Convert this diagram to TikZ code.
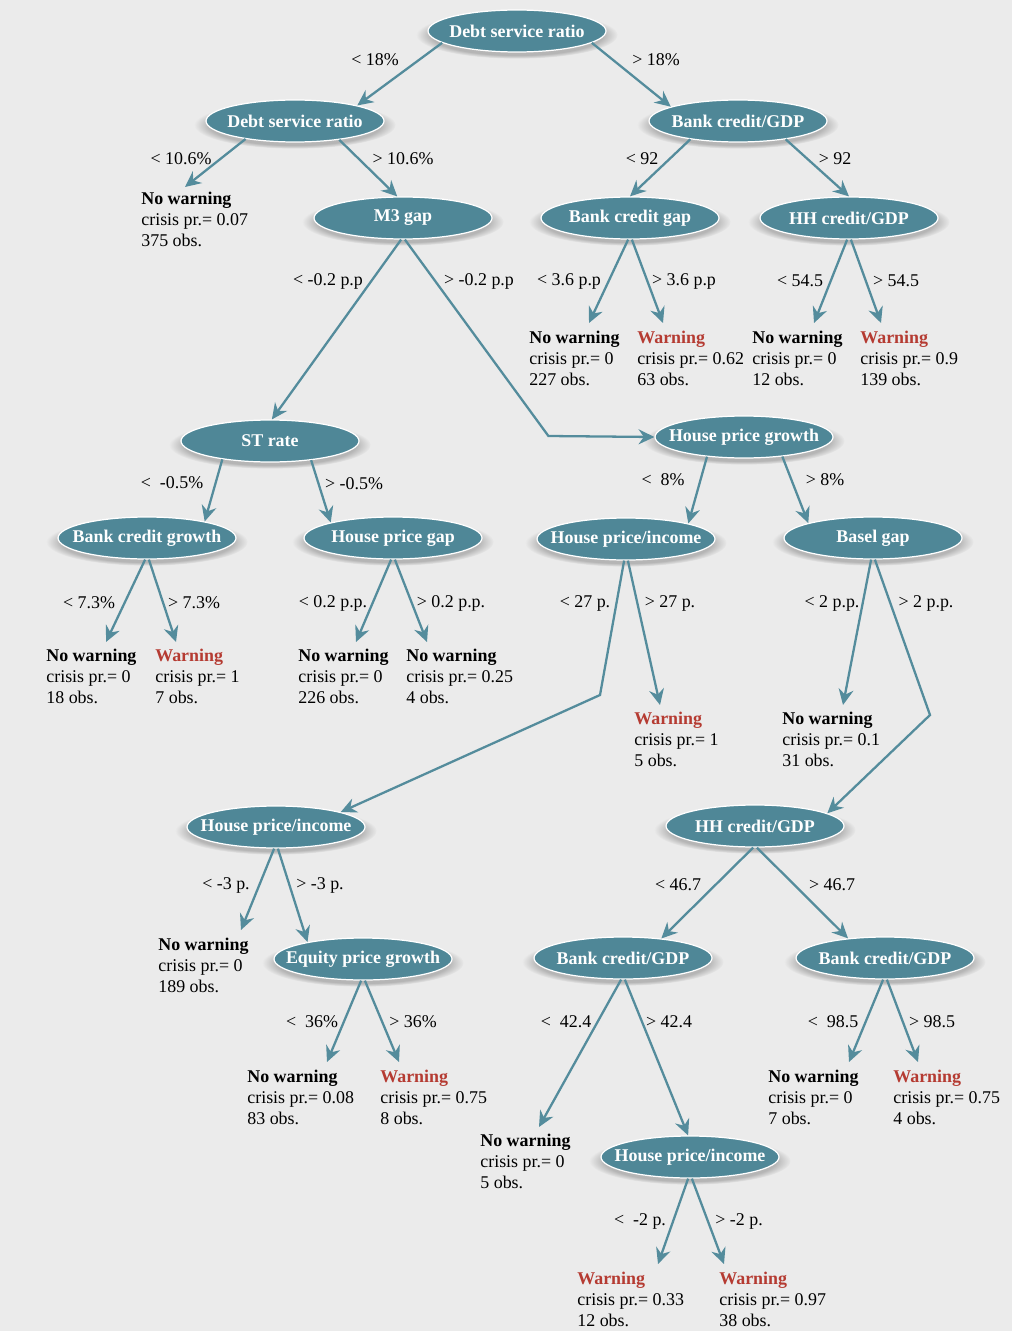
\documentclass[tikz,border=0pt]{standalone}
\usepackage{fontspec}
\setmainfont{Liberation Serif}
\usepackage{xcolor}
\usepackage{tikz}
\usetikzlibrary{arrows.meta}
\usetikzlibrary{shapes.geometric, calc, shadows}
\definecolor{nodeteal}{RGB}{79,135,151}
\definecolor{linkteal}{RGB}{84,140,156}
\definecolor{warnred}{RGB}{181,59,50}
\definecolor{backgray}{RGB}{235,235,235}
\newcommand{\nowarntxt}{\textbf{No warning}}
\newcommand{\warntxt}{\textbf{\textcolor{warnred}{Warning}}}

\tikzset{
  split/.style={ellipse, fill=nodeteal, draw=white, line width=0.7pt,
    minimum width=3.56cm, minimum height=0.84cm, inner xsep=-0.35cm,
    text=white, font=\fontsize{10.2}{12}\selectfont\bfseries,
    circular drop shadow={shadow xshift=0pt, shadow yshift=-2pt,
      shadow scale=1.13, opacity=0.5}},
  leaf/.style={anchor=north west, align=left, inner sep=0pt,
    font=\fontsize{10.2}{11.9}\selectfont},
  cond/.style={inner sep=0pt, font=\fontsize{10.2}{12}\selectfont},
  link/.style={draw=linkteal, line width=1.3pt,
    -{Stealth[length=9pt, width=8.5pt, inset=3pt]}}
}

\begin{document}
\begin{tikzpicture}[x=0.02cm, y=-0.02cm]
    % Fond gris
    \fill[backgray] (0,0) rectangle (1012,1331);

    % Noeuds de decision
    \node[split] (root) at (517,31) {Debt service ratio};
    \node[split] (dsr2) at (295,121) {Debt service ratio};
    \node[split] (bcgdp) at (738,121) {Bank credit/GDP};
    \node[split] (m3) at (403,218) {M3 gap};
    \node[split] (bcgap) at (630,218) {Bank credit gap};
    \node[split] (hh1) at (849,218) {HH credit/GDP};
    \node[split] (st) at (270,441) {ST rate};
    \node[split] (hpg) at (744,437) {House price growth};
    \node[split] (bcg) at (147,538) {Bank credit growth};
    \node[split] (hpgap) at (393,538) {House price gap};
    \node[split] (hpi1) at (626,539) {House price/income};
    \node[split] (basel) at (873,538) {Basel gap};
    \node[split] (hpi2) at (276,827) {House price/income};
    \node[split] (hh2) at (755,826) {HH credit/GDP};
    \node[split] (eq) at (363,959) {Equity price growth};
    \node[split] (bcgdp2) at (623,958) {Bank credit/GDP};
    \node[split] (bcgdp3) at (885,958) {Bank credit/GDP};
    \node[split] (hpi3) at (690,1157) {House price/income};

    % Feuilles
    \node[leaf] (l375) at (141,192) {\nowarntxt\\crisis pr.= 0.07\\375 obs.};
    \node[leaf] (l227) at (529,331) {\nowarntxt\\crisis pr.= 0\\227 obs.};
    \node[leaf] (l63) at (637,331) {\warntxt\\crisis pr.= 0.62\\63 obs.};
    \node[leaf] (l12) at (752,331) {\nowarntxt\\crisis pr.= 0\\12 obs.};
    \node[leaf] (l139) at (860,331) {\warntxt\\crisis pr.= 0.9\\139 obs.};
    \node[leaf] (l18) at (46,649) {\nowarntxt\\crisis pr.= 0\\18 obs.};
    \node[leaf] (l7) at (155,649) {\warntxt\\crisis pr.= 1\\7 obs.};
    \node[leaf] (l226) at (298,649) {\nowarntxt\\crisis pr.= 0\\226 obs.};
    \node[leaf] (l4) at (406,649) {\nowarntxt\\crisis pr.= 0.25\\4 obs.};
    \node[leaf] (l5) at (634,712) {\warntxt\\crisis pr.= 1\\5 obs.};
    \node[leaf] (l31) at (782,712) {\nowarntxt\\crisis pr.= 0.1\\31 obs.};
    \node[leaf] (l189) at (158,938) {\nowarntxt\\crisis pr.= 0\\189 obs.};
    \node[leaf] (l83) at (247,1070) {\nowarntxt\\crisis pr.= 0.08\\83 obs.};
    \node[leaf] (l8) at (380,1070) {\warntxt\\crisis pr.= 0.75\\8 obs.};
    \node[leaf] (l5b) at (480,1134) {\nowarntxt\\crisis pr.= 0\\5 obs.};
    \node[leaf] (l7b) at (768,1070) {\nowarntxt\\crisis pr.= 0\\7 obs.};
    \node[leaf] (l4b) at (893,1070) {\warntxt\\crisis pr.= 0.75\\4 obs.};
    \node[leaf] (l12b) at (577,1272) {\warntxt\\crisis pr.= 0.33\\12 obs.};
    \node[leaf] (l38) at (719,1272) {\warntxt\\crisis pr.= 0.97\\38 obs.};

    % Seuils
    \node[cond] (lt18) at (375,60) {< 18\%};
    \node[cond] (gt18) at (656,60) {> 18\%};
    \node[cond] (lt106) at (181,159) {< 10.6\%};
    \node[cond] (gt106) at (403,159) {> 10.6\%};
    \node[cond] (lt92) at (642,159) {< 92};
    \node[cond] (gt92) at (835,159) {> 92};
    \node[cond] (ltm3) at (328,281) {< -0.2 p.p};
    \node[cond] (gtm3) at (479,281) {> -0.2 p.p};
    \node[cond] (ltbcg) at (569,281) {< 3.6 p.p};
    \node[cond] (gtbcg) at (684,281) {> 3.6 p.p};
    \node[cond] (lthh1) at (800,281) {< 54.5};
    \node[cond] (gthh1) at (896,281) {> 54.5};
    \node[cond] (ltst) at (172,483) {<\ \ -0.5\%};
    \node[cond] (gtst) at (354,484) {> -0.5\%};
    \node[cond] (lthpg) at (663,480) {<\ \ 8\%};
    \node[cond] (gthpg) at (825,480) {> 8\%};
    \node[cond] (ltgr) at (89,603) {< 7.3\%};
    \node[cond] (gtgr) at (194,603) {> 7.3\%};
    \node[cond] (ltgap) at (333,603) {< 0.2 p.p.};
    \node[cond] (gtgap) at (451,603) {> 0.2 p.p.};
    \node[cond] (ltinc) at (585,603) {< 27 p.};
    \node[cond] (gtinc) at (670,603) {> 27 p.};
    \node[cond] (ltbas) at (832,603) {< 2 p.p.};
    \node[cond] (gtbas) at (926,603) {> 2 p.p.};
    \node[cond] (ltinc2) at (226,885) {< -3 p.};
    \node[cond] (gtinc2) at (320,885) {> -3 p.};
    \node[cond] (lthh2) at (678,885) {< 46.7};
    \node[cond] (gthh2) at (832,885) {> 46.7};
    \node[cond] (lteq) at (312,1022) {<\ \ 36\%};
    \node[cond] (gteq) at (413,1022) {> 36\%};
    \node[cond] (ltgdp2) at (566,1022) {<\ \ 42.4};
    \node[cond] (gtgdp2) at (669,1022) {> 42.4};
    \node[cond] (ltgdp3) at (833,1022) {<\ \ 98.5};
    \node[cond] (gtgdp3) at (932,1022) {> 98.5};
    \node[cond] (ltinc3) at (640,1221) {<\ \ -2 p.};
    \node[cond] (gtinc3) at (739,1221) {> -2 p.};

    % Branches
    \draw[link] (root.189) -- (dsr2.14);
    \draw[link] (root.351) -- (bcgdp.168);
    \draw[link] (dsr2.200) -- ($(l375.north west)+(44,-5)$);
    \draw[link] (dsr2.337) -- (m3.105);
    \draw[link] (bcgdp.201) -- (bcgap.90);
    \draw[link] (bcgdp.339) -- (hh1.90);
    \draw[link] (m3.265) -- (st.85);
    \draw[link] (m3.275) -- ($(hpg.west)+(-106,-1)$) -- (hpg.west);
    \draw[link] (bcgap.265) -- ($(l227.north west)+(60,-8)$);
    \draw[link] (bcgap.275) -- ($(l63.north west)+(26,-8)$);
    \draw[link] (hh1.265) -- ($(l12.north west)+(62,-8)$);
    \draw[link] (hh1.275) -- ($(l139.north west)+(21,-8)$);
    \draw[link] (st.201) -- (bcg.16);
    \draw[link] (st.335) -- (hpgap.166);
    \draw[link] (hpg.208) -- (hpi1.14);
    \draw[link] (hpg.333) -- (basel.167);
    \draw[link] (bcg.265) -- ($(l18.north west)+(60,-7)$);
    \draw[link] (bcg.275) -- ($(l7.north west)+(21,-7)$);
    \draw[link] (hpgap.265) -- ($(l226.north west)+(58,-7)$);
    \draw[link] (hpgap.275) -- ($(l4.north west)+(21,-7)$);
    \draw[link] (hpi1.265) -- ($(hpi1)+(-26,156)$) -- (hpi2.13);
    \draw[link] (hpi1.275) -- ($(l5.north west)+(26,-7)$);
    \draw[link] (basel.265) -- ($(l31.north west)+(61,-7)$);
    \draw[link] (basel.275) -- ($(basel)+(57,177)$) -- (hh2.10);
    \draw[link] (hpi2.265) -- ($(l189.north west)+(83,-8)$);
    \draw[link] (hpi2.275) -- (eq.163);
    \draw[link] (hh2.265) -- (bcgdp2.27);
    \draw[link] (hh2.275) -- (bcgdp3.152);
    \draw[link] (eq.265) -- ($(l83.north west)+(80,-8)$);
    \draw[link] (eq.275) -- ($(l8.north west)+(19,-8)$);
    \draw[link] (bcgdp2.265) -- ($(l5b.north west)+(59,-7)$);
    \draw[link] (bcgdp2.275) -- (hpi3.95);
    \draw[link] (bcgdp3.265) -- ($(l7b.north west)+(81,-8)$);
    \draw[link] (bcgdp3.275) -- ($(l4b.north west)+(25,-8)$);
    \draw[link] (hpi3.265) -- ($(l12b.north west)+(81,-8)$);
    \draw[link] (hpi3.275) -- ($(l38.north west)+(5,-8)$);
\end{tikzpicture}
\end{document}
